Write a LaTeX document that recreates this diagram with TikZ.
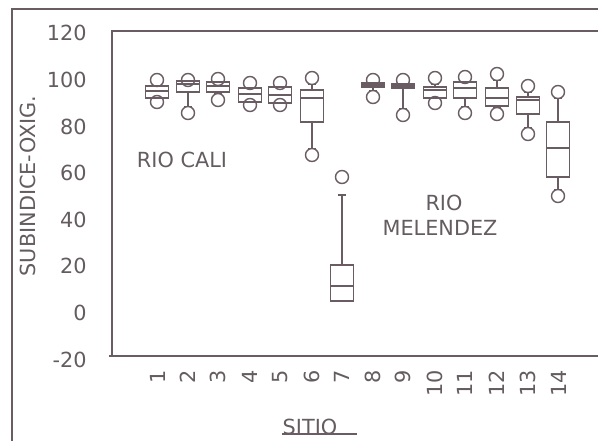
\documentclass[tikz,border=0pt]{standalone}
\usepackage{fontspec}
\setmainfont{DejaVu Sans}
\definecolor{ink}{RGB}{105,92,98}
\definecolor{txt}{RGB}{100,92,96}
\begin{document}
\begin{tikzpicture}[x=0.5pt,y=-0.5pt,
  frameline/.style={draw=ink,line width=0.75pt},
  plotline/.style={draw=ink,line width=0.7pt},
  lbl/.style={text=txt,font=\fontsize{10.4}{12}\selectfont,inner sep=0pt}]
\useasboundingbox (0,0) rectangle (598,440);
% outer frame
\draw[frameline] (12,450) -- (12,9) -- (610,9);
% plot frame
\draw[frameline] (610,31) -- (112,31) -- (112,356);
\draw[frameline] (109,356) -- (610,356);
% y tick labels
\foreach \v/\yy in {120/33,100/80,80/127,60/173,40/220,20/266,0/313,-20/360}
  \node[lbl,anchor=east] (y\v) at (87,\yy) {\v};
% y axis title
\node[lbl,rotate=90] (ytitle) at (28,186) {SUBINDICE-OXIG.};
% x tick labels
\foreach \i/\xx in {1/158,2/188,3/218,4/250,5/280,6/312,7/342,8/373,9/403,10/435,11/465,12/497,13/528,14/559}
  \node[lbl,rotate=90,anchor=east] (x\i) at (\xx,370) {\i};
% x axis title
\node[lbl] (xtitle) at (310,427) {SITIO};
\draw[plotline] (282,434) -- (357,434);
% region labels
\node[lbl] (cali) at (182,160) {RIO CALI};
\node[lbl] (rio) at (444,203) {RIO};
\node[lbl] (mel) at (440,228) {MELENDEZ};
% box plots: x / top circle / top cap / q3 / median / q1 / bottom cap / bottom circle
\foreach \x/\tc/\tcap/\qt/\md/\qb/\bcap/\bc in {
  157/80/86/86/91/98/98/102,
  188/80/81/81/84/92/106.5/113,
  218/79/82/82/86/92/93.5/100,
  250/83/88/88/94/102/102/105,
  280/83/87/87/95/103/103/105,
  312/78/84.5/90/98/122/148.5/155,
  373/80/83/83/85/87/90.5/97,
  403/80/84/84/86/88/108.5/115,
  435/78/84.5/87/90/98/98/103,
  465/77/82/82/88/98/106.5/113,
  497/74/80.5/88/98/106/107.5/114,
  528/86/92.5/97/100/114/127.5/134,
  558/92/98.5/122/148/177/189.5/196}{
  \draw[plotline] (\x,\tcap) -- (\x,\qt);
  \draw[plotline] (\x,\qb) -- (\x,\bcap);
  \draw[plotline] (\x-4,\tcap) -- (\x+4,\tcap);
  \draw[plotline] (\x-4,\bcap) -- (\x+4,\bcap);
  \draw[plotline] (\x-11.5,\qt) rectangle (\x+11.5,\qb);
  \draw[plotline] (\x-11.5,\md) -- (\x+11.5,\md);
  \draw[plotline] (\x,\tc) circle[radius=3.25pt];
  \draw[plotline] (\x,\bc) circle[radius=3.25pt];
}
% site 7
\draw[plotline] (342,177) circle[radius=3.25pt];
\draw[plotline] (342,195) -- (342,265);
\draw[plotline] (338,195) -- (346,195);
\draw[plotline] (330.5,265) rectangle (353.5,301);
\draw[plotline] (330.5,286) -- (353.5,286);
\end{tikzpicture}
\end{document}
